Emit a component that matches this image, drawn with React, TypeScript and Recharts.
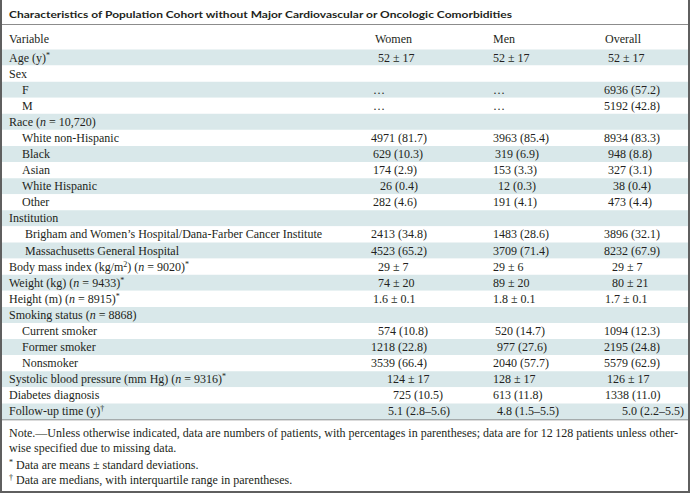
import { BarChart, Bar, XAxis, YAxis, Cell, LabelList, Customized } from 'recharts'

document.body.style.margin = '0'

// rows of the table, top to bottom
const labels = [
  'Age (y)*', 'Sex', 'F', 'M', 'Race (n = 10,720)', 'White non-Hispanic', 'Black', 'Asian',
  'White Hispanic', 'Other', 'Institution',
  'Brigham and Women\u2019s Hospital/Dana-Farber Cancer Institute', 'Massachusetts General Hospital',
  'Body mass index (kg/m^2) (n = 9020)*', 'Weight (kg) (n = 9433)*', 'Height (m) (n = 8915)*',
  'Smoking status (n = 8868)', 'Current smoker', 'Former smoker', 'Nonsmoker',
  'Systolic blood pressure (mm Hg) (n = 9316)*', 'Diabetes diagnosis', 'Follow-up time (y)\u2020',
]
const level = [0, 0, 1, 1, 0, 1, 1, 1, 1, 1, 0, 2, 2, 0, 0, 0, 0, 1, 1, 1, 0, 0, 0]

const women = [
  '52 ± 17', '', '…', '…', '', '4971 (81.7)', '629 (10.3)', '174 (2.9)', '26 (0.4)', '282 (4.6)',
  '', '2413 (34.8)', '4523 (65.2)', '29 ± 7', '74 ± 20', '1.6 ± 0.1', '', '574 (10.8)',
  '1218 (22.8)', '3539 (66.4)', '124 ± 17', '725 (10.5)', '5.1 (2.8–5.6)',
]
const men = [
  '52 ± 17', '', '…', '…', '', '3963 (85.4)', '319 (6.9)', '153 (3.3)', '12 (0.3)', '191 (4.1)',
  '', '1483 (28.6)', '3709 (71.4)', '29 ± 6', '89 ± 20', '1.8 ± 0.1', '', '520 (14.7)',
  '977 (27.6)', '2040 (57.7)', '128 ± 17', '613 (11.8)', '4.8 (1.5–5.5)',
]
const overall = [
  '52 ± 17', '', '6936 (57.2)', '5192 (42.8)', '', '8934 (83.3)', '948 (8.8)', '327 (3.1)',
  '38 (0.4)', '473 (4.4)', '', '3896 (32.1)', '8232 (67.9)', '29 ± 7', '80 ± 21', '1.7 ± 0.1',
  '', '1094 (12.3)', '2195 (24.8)', '5579 (62.9)', '126 ± 17', '1338 (11.0)', '5.0 (2.2–5.5)',
]

const headers = ['Variable', 'Women', 'Men', 'Overall']
const title = 'Characteristics of Population Cohort without Major Cardiovascular or Oncologic Comorbidities'
const notes = [
  'Note.\u2014Unless otherwise indicated, data are numbers of patients, with percentages in parentheses; data are for 12\u2009128 patients unless other-',
  'wise specified due to missing data.',
  '* Data are means ± standard deviations.',
  '\u2020 Data are medians, with interquartile range in parentheses.',
]

const data = labels.map((label, i) => ({ label, level: level[i], women: women[i], men: men[i], overall: overall[i] }))

// layout
const W = 691
const H = 494
const ink = '#231f20'
const band = '#d9e8ea'
const serif = '"Liberation Serif", "Times New Roman", serif'
const indentX = [9, 22, 25]
const colX = { women: 371, men: 493, overall: 604 }
// hand alignment nudges (px) per row, like the figure spaces of the original
const nudge: Record<string, Record<number, number>> = {
  women: { 0: 7, 2: 2, 3: 2, 6: 2, 7: 2, 8: 9, 9: 2, 13: 7, 14: 7, 15: 2, 17: 7, 20: 16, 21: 22, 22: 17 },
  men: { 6: 2, 8: 5, 17: 2, 18: 4, 22: 4 },
  overall: { 0: 4, 6: 4, 7: 4, 8: 9, 9: 4, 13: 8, 14: 8, 15: 1, 20: 3, 21: 1, 22: 18 },
}

// splits a label into plain / italic n / superscript pieces
function RichText({ text, x, y }: { text: string; x: number; y: number }) {
  const parts = text.split(/(\^2|\*|\u2020|\bn(?= = ))/).filter(p => p !== '')
  let raised = false
  return (
    <text x={x} y={y} fill={ink} fontFamily={serif} fontSize={12}>
      {parts.map((p, k) => {
        const sup = p === '^2' || p === '*' || p === '\u2020'
        const dy = sup && !raised ? -4 : !sup && raised ? 4 : 0
        raised = sup
        return (
          <tspan key={k} dy={dy} fontSize={sup ? 8 : 12} fontStyle={p === 'n' ? 'italic' : 'normal'}>
            {p === '^2' ? '2' : p}
          </tspan>
        )
      })}
    </text>
  )
}

function cellBox(props: any) {
  const vb = props.viewBox ?? props
  return { y: Number(vb.y ?? props.y), h: Number(vb.height ?? props.height) }
}

const labelCell = (props: any) => {
  const { y, h } = cellBox(props)
  const i = props.index as number
  return <RichText key={i} text={data[i].label} x={indentX[data[i].level]} y={y + h / 2 + 4} />
}

const valueCell = (col: 'women' | 'men' | 'overall') => (props: any) => {
  const { y, h } = cellBox(props)
  const i = props.index as number
  return (
    <text key={i} x={colX[col] + (nudge[col][i] ?? 0)} y={y + h / 2 + 4} fill={ink} fontFamily={serif} fontSize={12}>
      {data[i][col]}
    </text>
  )
}

function Frame() {
  return (
    <g>
      <text x={9} y={17.5} fill={ink} fontFamily="Lato, sans-serif" fontWeight={700} fontSize={10}
        textLength={503} lengthAdjust="spacingAndGlyphs">
        {title}
      </text>
      <line x1={2} x2={688} y1={24.5} y2={24.5} stroke="#8c8c8c" strokeWidth={1} />
      <text y={43} fill={ink} fontFamily={serif} fontSize={12}>
        <tspan x={9}>{headers[0]}</tspan>
        <tspan x={375}>{headers[1]}</tspan>
        <tspan x={493}>{headers[2]}</tspan>
        <tspan x={605}>{headers[3]}</tspan>
      </text>
      <line x1={2} x2={688} y1={419.5} y2={419.5} stroke="#707070" strokeWidth={1.5} />
      <text x={9} y={437} fill={ink} fontFamily={serif} fontSize={12} textLength={669} lengthAdjust="spacing">
        {notes[0]}
      </text>
      <text x={9} y={452} fill={ink} fontFamily={serif} fontSize={12}>{notes[1]}</text>
      <RichText text={notes[2]} x={9} y={469} />
      <RichText text={notes[3]} x={9} y={484} />
      <path d={`M1 0 V${H - 2} H${W - 2} V0`} fill="none" stroke="#5f5f5f" strokeWidth={2} />
    </g>
  )
}

export default function App() {
  return (
    <div style={{ width: W, height: H, background: '#fff', overflow: 'hidden' }}>
      <BarChart width={W} height={H} data={data} layout="vertical" barCategoryGap={0}
        margin={{ top: 49.5, right: 3, bottom: 74.5, left: 2 }}>
        <XAxis type="number" domain={[0, 1]} hide />
        <YAxis type="category" dataKey="label" hide />
        <Bar dataKey={() => 1} isAnimationActive={false}>
          {data.map((_, i) => (
            <Cell key={i} fill={i % 2 === 0 ? band : '#ffffff'} />
          ))}
          <LabelList dataKey="label" content={labelCell} />
          <LabelList dataKey="women" content={valueCell('women')} />
          <LabelList dataKey="men" content={valueCell('men')} />
          <LabelList dataKey="overall" content={valueCell('overall')} />
        </Bar>
        <Customized component={<Frame />} />
      </BarChart>
    </div>
  )
}
